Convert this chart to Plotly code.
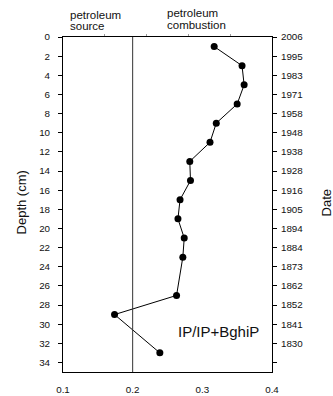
import plotly.graph_objects as go

# Data
depth_cm = [1, 3, 5, 7, 9, 11, 13, 15, 17, 19, 21, 23, 27, 29, 33]
ratio = [0.317, 0.357, 0.360, 0.350, 0.320, 0.311, 0.282, 0.283, 0.268,
         0.265, 0.274, 0.272, 0.263, 0.174, 0.239]

depth_ticks = [0, 2, 4, 6, 8, 10, 12, 14, 16, 18, 20, 22, 24, 26, 28, 30, 32, 34]
date_labels = ["2006", "1995", "1983", "1971", "1958", "1948", "1938", "1928",
               "1916", "1905", "1894", "1884", "1873", "1862", "1852", "1841",
               "1830", ""]
x_ticks = [0.1, 0.2, 0.3, 0.4]
x_tick_labels = ["0.1", "0.2", "0.3", "0.4"]
top_minor_ticks = [0.16, 0.22, 0.28, 0.34]
threshold = 0.2

FONT = "Liberation Sans, Arial, sans-serif"

fig = go.Figure()
fig.add_trace(go.Scatter(
    x=ratio, y=depth_cm, mode="lines+markers",
    line=dict(color="black", width=1),
    marker=dict(color="black", size=7),
    showlegend=False, hoverinfo="skip",
))
# invisible trace to activate overlay axes
fig.add_trace(go.Scatter(x=[None], y=[None], xaxis="x2", yaxis="y2",
                         showlegend=False, hoverinfo="skip"))

fig.add_shape(type="line", x0=threshold, x1=threshold, y0=0, y1=35,
              xref="x", yref="y", line=dict(color="#333333", width=1))

tickfont = dict(family=FONT, size=9.8, color="#111111")

fig.update_layout(
    width=333, height=396,
    margin=dict(l=63, r=61, t=37, b=24, autoexpand=False),
    paper_bgcolor="white", plot_bgcolor="white",
    font=dict(family=FONT, color="#111111"),
    xaxis=dict(range=[0.1, 0.4], tickvals=x_ticks, ticktext=x_tick_labels,
               showgrid=False, zeroline=False, showline=True, linecolor="black",
               linewidth=1, ticks="outside", ticklen=5, tickcolor="rgba(0,0,0,0)",
               tickfont=tickfont, ticklabelstandoff=3),
    yaxis=dict(range=[35, 0], tickvals=depth_ticks,
               ticktext=[str(d) for d in depth_ticks],
               showgrid=False, zeroline=False, showline=True, linecolor="black",
               linewidth=1, ticks="outside", ticklen=4, tickcolor="black",
               tickwidth=1, tickfont=tickfont, ticklabelstandoff=6),
    xaxis2=dict(overlaying="x", side="top", range=[0.1, 0.4],
                tickvals=top_minor_ticks, showticklabels=False,
                showgrid=False, zeroline=False, showline=True, linecolor="black",
                linewidth=1, ticks="outside", ticklen=2, tickcolor="#999999"),
    yaxis2=dict(overlaying="y", side="right", range=[35, 0],
                tickvals=depth_ticks, ticktext=date_labels,
                showgrid=False, zeroline=False, showline=True, linecolor="black",
                linewidth=1, ticks="outside", ticklen=4, tickcolor="black",
                tickwidth=1, tickfont=tickfont, ticklabelstandoff=2),
)

def py(p):
    return 1 + (37 - p) / 335.5

def px(p):
    return (p - 63.3) / 209.0

ann_font = dict(family=FONT, size=11.5, color="#111111")
anns = [
    dict(text="petroleum", x=px(68), y=py(14.5), xanchor="left", yanchor="middle", font=ann_font),
    dict(text="source", x=px(68), y=py(26), xanchor="left", yanchor="middle", font=ann_font),
    dict(text="petroleum", x=px(165.5), y=py(13), xanchor="left", yanchor="middle", font=ann_font),
    dict(text="combustion", x=px(165.5), y=py(24.5), xanchor="left", yanchor="middle", font=ann_font),
    dict(text="IP/IP+BghiP", x=px(176.5), y=py(331.7), xanchor="left", yanchor="middle",
         font=dict(family=FONT, size=15, color="#111111")),
    dict(text="Depth (cm)", x=px(22), y=py(203), xanchor="center", yanchor="middle",
         textangle=-90, font=dict(family=FONT, size=13, color="#111111")),
    dict(text="Date", x=px(327), y=py(203), xanchor="center", yanchor="middle",
         textangle=-90, font=dict(family=FONT, size=13, color="#111111")),
]
for a in anns:
    fig.add_annotation(xref="paper", yref="paper", showarrow=False, **a)

fig.write_html("out.html")
